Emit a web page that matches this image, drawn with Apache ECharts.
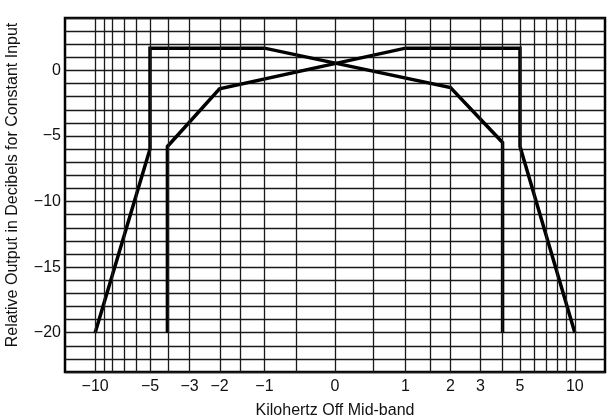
<!DOCTYPE html>
<html>
<head>
<meta charset="utf-8">
<title>Kilohertz Off Mid-band</title>
<script src="https://cdn.jsdelivr.net/npm/echarts@6/dist/echarts.min.js"></script>
<style>
  html, body { margin: 0; padding: 0; background: #fff; }
  #chart { width: 609px; height: 419px; }
</style>
</head>
<body>
<div id="chart"></div>
<script>
// kHz off mid-band, the paper is spread like asinh(kHz)
var xTickLabels = [-10, -5, -3, -2, -1, 0, 1, 2, 3, 5, 10];
var xGridKHz = [-10, -9, -8, -7, -6, -5, -4, -3, -2, -1.5, -1, -0.5, 0,
                0.5, 1, 1.5, 2, 3, 4, 5, 6, 7, 8, 9, 10];
var yTickLabels = [0, -5, -10, -15, -20];

// the two response curves (kHz, dB)
var curveAKHz = [-10, -5, -5, -1, 2, 4, 4];
var curveADb  = [-20, -6, 1.7, 1.7, -1.3, -5.5, -20];
var curveBKHz = [-4, -4, -2, 1, 5, 5, 10];
var curveBDb  = [-20, -5.8, -1.4, 1.7, 1.7, -5.8, -20];

var FONT = 'Liberation Sans';

function fmt(v) {
  return v < 0 ? '\u2212' + Math.abs(v) : String(v);
}
function toPts(kHz, db) {
  return kHz.map(function (f, i) { return [Math.asinh(f), db[i]]; });
}

var chart = echarts.init(document.getElementById('chart'));
chart.setOption({
  animation: false,
  backgroundColor: '#fff',
  grid: {
    left: 65, right: 4, top: 18, bottom: 47,
    show: true, borderColor: '#000', borderWidth: 2.5,
    outerBoundsMode: 'none'
  },
  xAxis: {
    type: 'value',
    min: -3.375, max: 3.375,
    name: 'Kilohertz Off Mid-band',
    nameLocation: 'middle',
    nameGap: 31,
    nameTextStyle: { fontFamily: FONT, fontSize: 16, color: '#111' },
    axisLine: { show: false },
    axisTick: { show: false },
    splitLine: { show: false },
    axisLabel: {
      customValues: xTickLabels.map(Math.asinh),
      formatter: function (v) { return fmt(Math.round(Math.sinh(v))); },
      fontFamily: FONT, fontSize: 16, color: '#111', margin: 7
    }
  },
  yAxis: {
    type: 'value',
    min: -23, max: 4, interval: 1,
    name: 'Relative Output in Decibels for Constant Input',
    nameLocation: 'middle',
    nameGap: 44,
    nameRotate: 90,
    nameTextStyle: { fontFamily: FONT, fontSize: 16, color: '#111', padding: [0, 0, 0, 20] },
    axisLine: { show: false },
    axisTick: { show: false },
    splitLine: { lineStyle: { color: '#1a1a1a', width: 1.3 } },
    axisLabel: {
      formatter: function (v) { return yTickLabels.indexOf(v) >= 0 ? fmt(v) : ''; },
      fontFamily: FONT, fontSize: 16, color: '#111', margin: 4
    }
  },
  series: [
    {
      // vertical rulings of the paper
      type: 'line',
      data: [],
      silent: true,
      z: 1,
      markLine: {
        silent: true,
        symbol: 'none',
        label: { show: false },
        lineStyle: { color: '#1a1a1a', width: 1.3, type: 'solid' },
        data: xGridKHz.map(function (f) { return { xAxis: Math.asinh(f) }; })
      }
    },
    {
      type: 'line',
      data: toPts(curveAKHz, curveADb),
      showSymbol: false,
      z: 3,
      lineStyle: { color: '#000', width: 3.5, join: 'miter' }
    },
    {
      type: 'line',
      data: toPts(curveBKHz, curveBDb),
      showSymbol: false,
      z: 3,
      lineStyle: { color: '#000', width: 3.5, join: 'miter' }
    }
  ]
});
</script>
</body>
</html>
